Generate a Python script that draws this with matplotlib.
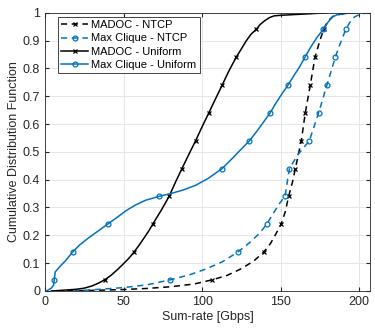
import numpy as np
import matplotlib
matplotlib.use('Agg')
import matplotlib.pyplot as plt

# values (x in Gbps, y = CDF)
madoc_ntcp_x = [14, 30, 50, 65, 80, 95, 106.5, 116, 125, 133, 139.3, 143.5, 147, 150.3, 153, 155.1,
                157.5, 159.4, 163.2, 165.7, 168.9, 171.9, 175, 177.4, 180, 184, 190, 196]
madoc_ntcp_y = [0, 0.002, 0.005, 0.009, 0.015, 0.025, 0.04, 0.056, 0.08, 0.108, 0.14, 0.17, 0.205, 0.24, 0.285, 0.34,
                0.39, 0.44, 0.54, 0.64, 0.74, 0.84, 0.9, 0.94, 0.97, 0.99, 0.997, 1.0]

clique_ntcp_x = [18, 35, 50, 65, 79.8, 92, 102, 113, 122.8, 131, 137, 141.2, 146, 150, 152.8, 155.6,
                 161, 168.3, 174.2, 179.5, 184.8, 188, 191.5, 194, 197, 201, 206]
clique_ntcp_y = [0, 0.006, 0.012, 0.022, 0.04, 0.058, 0.078, 0.105, 0.14, 0.177, 0.21, 0.24, 0.285, 0.32, 0.34, 0.44,
                 0.49, 0.54, 0.64, 0.74, 0.84, 0.89, 0.94, 0.965, 0.985, 0.996, 1.0]

madoc_unif_x = [4, 10, 15, 20, 25, 30, 34, 38, 42, 46, 50, 53.5, 56.7, 60, 63, 66, 68.6, 74, 79, 83,
                87.2, 91.5, 95.9, 100, 104.3, 108.5, 112.8, 117, 121.7, 125, 128, 131, 134.4, 137, 140, 143,
                146, 150, 160, 170, 179]
madoc_unif_y = [0, 0.002, 0.004, 0.006, 0.01, 0.018, 0.028, 0.04, 0.056, 0.076, 0.098, 0.118, 0.14, 0.165, 0.19, 0.215,
                0.24, 0.29, 0.34, 0.39, 0.44, 0.49, 0.54, 0.59, 0.64, 0.69, 0.74, 0.79, 0.84, 0.87, 0.898, 0.922,
                0.94, 0.958, 0.972, 0.983, 0.989, 0.991, 0.994, 0.997, 1.0]

clique_unif_x = [1, 4, 5.4, 5.9, 6.5, 9, 13, 17.6, 22, 28, 34, 39.8, 46, 52, 58, 64, 72.6, 80, 88,
                 96, 104, 112.8, 119, 125, 130.2, 135, 139.5, 143.3, 147, 151, 154.7, 158, 162, 165.5, 169, 173,
                 177.1, 180, 183, 186, 192, 200]
clique_unif_y = [0, 0.01, 0.02, 0.04, 0.068, 0.085, 0.108, 0.14, 0.165, 0.192, 0.216, 0.24, 0.265, 0.29, 0.31, 0.326, 0.34, 0.35, 0.363,
                 0.38, 0.405, 0.44, 0.475, 0.51, 0.54, 0.575, 0.61, 0.64, 0.675, 0.71, 0.74, 0.77, 0.805, 0.84, 0.875, 0.91,
                 0.94, 0.965, 0.985, 0.993, 0.998, 1.0]

marker_levels = np.arange(0.04, 1.0, 0.1)


def marker_idx(ys):
    ys = np.array(ys)
    return [i for i, v in enumerate(ys) if np.any(np.isclose(v, marker_levels))]


plt.rcParams['font.family'] = ['Liberation Sans', 'DejaVu Sans']
plt.rcParams['font.size'] = 9

blue = '#0072BD'
fig = plt.figure(figsize=(3.75, 3.28), dpi=100)
ax = fig.add_axes([0.12, 0.113, 0.867, 0.848])

ax.plot(madoc_ntcp_x, madoc_ntcp_y, '--', color='black', lw=1.1, marker='x', ms=3.5, mew=0.9,
        markevery=marker_idx(madoc_ntcp_y), dashes=(4, 3), label='MADOC - NTCP')
ax.plot(clique_ntcp_x, clique_ntcp_y, '--', color=blue, lw=1.1, marker='o', ms=3.5, mew=0.9, mfc='none',
        markevery=marker_idx(clique_ntcp_y), dashes=(4, 3), label='Max Clique - NTCP')
ax.plot(madoc_unif_x, madoc_unif_y, '-', color='black', lw=1.1, marker='x', ms=3.5, mew=0.9,
        markevery=marker_idx(madoc_unif_y), label='MADOC - Uniform')
ax.plot(clique_unif_x, clique_unif_y, '-', color=blue, lw=1.1, marker='o', ms=3.5, mew=0.9, mfc='none',
        markevery=marker_idx(clique_unif_y), label='Max Clique - Uniform')

ax.set_xlim(0, 207)
ax.set_ylim(0, 1)
ax.set_xticks([0, 50, 100, 150, 200])
ax.set_yticks(np.round(np.arange(0, 1.01, 0.1), 1))
ax.set_yticklabels(['0', '0.1', '0.2', '0.3', '0.4', '0.5', '0.6', '0.7', '0.8', '0.9', '1'])
ax.grid(True, color='#e6e6e6', lw=0.7)
ax.set_axisbelow(True)
ax.tick_params(direction='in', length=3, top=True, right=True, colors='#262626', labelcolor='#262626')
for s in ax.spines.values():
    s.set_color('#262626')
    s.set_linewidth(0.6)
ax.set_xlabel('Sum-rate [Gbps]', color='#262626', labelpad=2)
ax.set_ylabel('Cumulative Distribution Function', color='#262626', labelpad=2)

leg = ax.legend(loc='upper left', bbox_to_anchor=(0.04, 0.985), borderaxespad=0, fontsize=8,
                handlelength=2.4, handletextpad=0.3, labelspacing=0.28, borderpad=0.3, fancybox=False,
                edgecolor='#262626', framealpha=1)
leg.get_frame().set_linewidth(0.6)

fig.savefig('out.png', dpi=100)
